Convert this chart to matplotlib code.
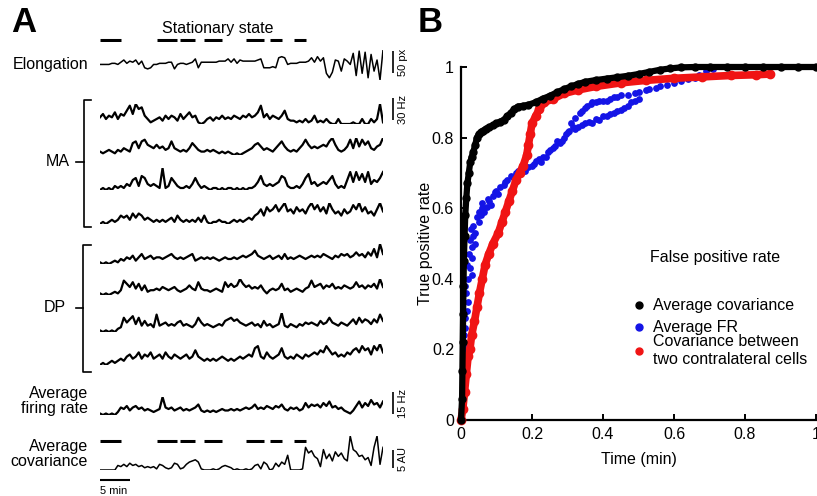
import numpy as np
import matplotlib
matplotlib.use("Agg")
import matplotlib.pyplot as plt
from matplotlib.lines import Line2D

plt.rcParams['font.family'] = ['Liberation Sans', 'DejaVu Sans']

# ==============================
# DATA - panel A (traces, arbitrary units, one sample every 0.5 min)
# ==============================
elongation = [0, 0, 0, 0, 1, 1, 0, 2, 4, 1, 3, 2, 4, 0, 3, -3, -4, -3, 0, 0, 1, 1, 1, 2, 2,
              -4, 0, 1, 1, 0, 1, 2, 5, -3, 2, 2, 2, 2, 2, 2, 3, 3, 3, 5, 2, 5, 1, 4,
              3, 3, 3, 3, 3, 4, 5, -3, -3, -3, -2, -3, 6, 7, 6, 0, 1, 1, 1, 2, 2, 2, 3,
              6, 2, 7, 3, 6, -8, -12, -7, 4, 3, -6, 5, 3, 0,
              10, -10, 12, -8, 11, -12, 9, -6, 4, -14, 13]

ma1 = [4, 6, 3, 5, 4, 7, 3, 6, 5, 8, 11, 6, 12, 9, 10, 5, 3, 1, 2, 3,
       4, 2, 5, 3, 5, 4, 2, 6, 3, 5, 7, 4, 5, 1, 0, 1,
       3, 4, 2, 4, 3, 5, 3, 4, 3, 5, 4, 3, 5, 4, 6, 4, 5, 7, 11,
       4, 6, 3, 5, 4, 3, 5, 8, 3, 2, 2, 1, 2, 1, 3, 1, 2, 5, 1, 2, 1, 3, 1,
       0, 0, 3, 0, 0, 0, 0, 1, 0, 0, 3, 0, 0, 3, 1, 3, 12, 1]
ma2 = [2, 1, 2, 3, 2, 1, 3, 2, 4, 3, 2, 7, 8, 4, 8, 9, 6, 5, 4, 6, 4, 5, 3, 4, 8, 4,
       3, 2, 3, 2, 4, 7, 5, 3, 2, 2, 3, 2, 3, 2, 1, 2, 1, 2, 1, 0, 1, 0, 1, 2,
       3, 4, 6, 7, 5, 3, 4, 3, 2, 4, 6, 8, 5, 3, 2, 3, 2, 4, 6, 9, 6, 4, 5, 4, 5, 6,
       5, 8, 10, 6, 3, 2, 3, 5, 9, 4, 10, 5, 9, 6, 8, 4, 3, 5, 6, 10]
ma3 = [1, 2, 1, 2, 1, 3, 2, 3, 2, 4, 3, 6, 7, 3, 8, 7, 4, 3, 4, 3, 2, 12, 2, 3, 7, 5,
       3, 2, 2, 3, 2, 4, 7, 4, 2, 3, 2, 1, 2, 2, 1, 2, 1, 2, 2, 1, 2, 1, 2, 1, 2, 2, 3,
       5, 8, 4, 3, 4, 3, 4, 5, 8, 7, 3, 2, 2, 3, 2, 4, 7, 9, 4, 5, 3, 4, 5, 4, 6, 8, 4,
       2, 3, 2, 6, 10, 5, 10, 6, 9, 5, 10, 4, 6, 5, 7, 10]
ma4 = [0, 1, 0, 1, 2, 1, 2, 4, 3, 4, 2, 5, 3, 5, 4, 2, 3, 2, 1, 2, 1, 2, 1, 2, 3, 1, 4, 2,
       1, 2, 1, 2, 1, 3, 1, 4, 1, 0, 1, 1, 2, 1, 1, 0, 1, 2, 1, 2, 1, 2, 3, 2, 4,
       5, 7, 4, 8, 6, 7, 9, 6, 8, 10, 6, 7, 5, 8, 6, 7, 5, 8, 10, 7, 9, 6, 8, 5,
       10, 7, 5, 6, 4, 7, 5, 6, 9, 7, 10, 6, 8, 5, 6, 4, 7, 10, 6]

dp1 = [1, 0, 1, 0, 1, 2, 1, 3, 2, 4, 3, 5, 2, 4, 6, 3, 4, 5, 3, 4, 4, 3, 4, 5, 6, 4, 3, 4, 3, 4, 5,
       6, 2, 3, 4, 3, 4, 3, 4, 3, 2, 3, 4, 3, 3, 4, 3, 4, 5, 4, 5, 6, 8, 5, 4, 3, 4, 5, 3, 4,
       5, 3, 6, 3, 4, 3, 4, 5, 4, 3, 4, 5, 4, 5, 4, 6, 5, 4, 3, 5, 4, 6, 5,
       6, 4, 5, 7, 5, 6, 4, 7, 5, 9, 4, 12, 6]
dp2 = [1, 0, 1, 0, 1, 2, 1, 3, 9, 7, 5, 8, 4, 7, 3, 6, 2, 3, 3, 4, 3, 5, 4, 3, 4, 5,
       3, 2, 3, 4, 6, 4, 3, 8, 4, 3, 3, 2, 3, 4, 3, 2, 8, 5, 7, 5, 6, 10, 7, 5, 6, 4, 5, 4, 6,
       3, 1, 3, 4, 3, 4, 7, 3, 4, 2, 3, 4, 3, 2, 4, 5, 9, 5, 6, 7, 4, 6, 5, 7,
       4, 5, 4, 6, 5, 4, 5, 8, 5, 6, 4, 6, 5, 7, 4, 10, 5]
dp3 = [1, 0, 1, 0, 1, 0, 2, 3, 9, 6, 8, 10, 5, 9, 4, 7, 4, 5, 3, 11, 4, 5, 6, 4,
       5, 4, 6, 7, 4, 5, 4, 3, 5, 9, 6, 4, 5, 4, 3, 4, 5, 4, 7, 8, 9, 7, 8, 6, 5, 4, 5, 6, 4,
       5, 3, 7, 4, 5, 3, 4, 5, 12, 4, 3, 5, 4, 3, 5, 4, 6, 5, 6, 5, 4, 7, 5, 6, 9,
       6, 5, 4, 6, 5, 4, 6, 8, 5, 9, 6, 8, 7, 5, 8, 6, 11, 7]
dp4 = [1, 2, 1, 2, 3, 2, 3, 4, 3, 5, 6, 4, 5, 7, 4, 6, 5, 7, 4, 5, 6, 4, 7, 5,
       4, 6, 5, 4, 5, 6, 4, 5, 8, 5, 4, 3, 4, 3, 4, 3, 4, 5, 4, 3, 4, 3, 4, 5, 4, 5, 6,
       5, 9, 10, 5, 4, 7, 5, 4, 5, 6, 9, 5, 4, 5, 4, 6, 5, 4, 6, 5, 6,
       7, 6, 8, 7, 10, 8, 6, 7, 5, 6, 5, 7, 6, 8, 9, 7, 10, 8, 9, 6, 10, 8, 11, 7]

avg_fr = [1, 0, 1, 0, 1, 0, 2, 5, 4, 6, 3, 5, 6, 4, 5, 3, 4, 3, 2, 3, 4, 12, 5, 4, 5, 3, 4, 5, 3, 4, 3,
          4, 5, 7, 3, 2, 3, 2, 3, 2, 3, 4, 3, 3, 4, 3, 4, 3, 4, 5, 4, 5, 7, 4, 5, 4, 6, 5, 4, 6,
          5, 7, 4, 3, 5, 4, 5, 3, 4, 8, 5, 7, 6, 7, 5, 8, 6, 9, 5, 6, 4, 5, 3, 2,
          1, 3, 6, 9, 5, 8, 6, 10, 7, 8, 5, 9]
avg_cov = [0, 0, 0, 0, 0, 0, 4, 3, 5, 3, 6, 4, 5, 3, 4, 2, 3, 2, 3, 1, 5, 4, 2, 1, 2, 6, 5, 1, 2,
           5, 7, 8, 9, 7, 1, 0, 0, 0, 1, 0, 1, 3, 4, 3, 2, 0, 1, 0, 0, 1, 0, 1,
           4, 5, 1, 7, 5, 0, 1, 6, 3, 7, 5, 13, 0, 0, 0, 0, 1,
           20, 15, 17, 12, 10, 3, 18, 10, 14, 8, 16, 12, 15, 10, 8, 30, 18, 16, 12, 13, 9,
           11, 4, 20, 30, 5, 20]

# stationary state periods (min)
stat_start = [0, 9.5, 13.5, 17.5, 24.5, 28.5, 32.5]
stat_end = [3.5, 13, 16, 20.5, 27.5, 30.5, 34.5]

# ==============================
# DATA - panel B (ROC)
# ==============================
cov_fpr = [0, 0.003, 0.004, 0.005, 0.006, 0.007, 0.008, 0.01, 0.012, 0.015, 0.018, 0.022, 0.026,
           0.03, 0.035, 0.04, 0.045, 0.05, 0.056, 0.063, 0.07, 0.08, 0.09, 0.1, 0.11, 0.12, 0.13,
           0.14, 0.15, 0.16, 0.175, 0.19, 0.21, 0.23, 0.25, 0.27, 0.29, 0.31, 0.33, 0.35, 0.38,
           0.41, 0.44, 0.47, 0.5, 0.53, 0.56, 0.59, 0.62, 0.66, 0.7, 0.75, 0.8, 0.85, 0.9, 0.95, 1.0]
cov_tpr = [0, 0.06, 0.14, 0.22, 0.3, 0.38, 0.45, 0.52, 0.58, 0.63, 0.67, 0.7, 0.73,
           0.745, 0.76, 0.78, 0.8, 0.81, 0.815, 0.82, 0.825, 0.83, 0.835, 0.84, 0.845, 0.85, 0.86,
           0.87, 0.88, 0.888, 0.89, 0.893, 0.9, 0.91, 0.918, 0.928, 0.937, 0.945, 0.952, 0.958, 0.963,
           0.967, 0.971, 0.975, 0.98, 0.986, 0.992, 0.996, 0.999, 1, 1, 1, 1, 1, 1, 1, 1]

# average FR: (false positive rate, true positive rate)
fr_points = [
    (0.005, 0.1), (0.008, 0.16), (0.01, 0.2), (0.015, 0.21), (0.008, 0.24), (0.01, 0.26),
    (0.012, 0.29), (0.016, 0.31), (0.02, 0.335), (0.015, 0.36), (0.012, 0.38), (0.02, 0.4),
    (0.03, 0.41), (0.025, 0.43), (0.018, 0.44), (0.03, 0.46), (0.022, 0.47), (0.03, 0.49),
    (0.04, 0.5), (0.025, 0.51), (0.035, 0.52), (0.04, 0.53), (0.028, 0.54), (0.035, 0.55),
    (0.05, 0.56), (0.044, 0.576), (0.055, 0.58), (0.05, 0.59), (0.065, 0.59), (0.06, 0.6),
    (0.072, 0.604), (0.085, 0.61), (0.06, 0.615), (0.08, 0.62), (0.075, 0.625), (0.09, 0.635),
    (0.105, 0.64), (0.095, 0.645), (0.1, 0.65), (0.11, 0.66), (0.12, 0.665), (0.125, 0.675),
    (0.13, 0.68), (0.15, 0.685), (0.14, 0.69), (0.155, 0.7), (0.16, 0.705), (0.18, 0.705),
    (0.17, 0.71), (0.19, 0.717), (0.2, 0.72), (0.205, 0.725), (0.225, 0.73), (0.21, 0.735),
    (0.22, 0.74), (0.24, 0.745), (0.232, 0.746), (0.245, 0.76), (0.25, 0.765), (0.26, 0.77),
    (0.265, 0.775), (0.279, 0.784), (0.27, 0.79), (0.285, 0.79), (0.29, 0.8), (0.295, 0.81),
    (0.3, 0.815), (0.305, 0.82), (0.315, 0.83),
    # upper track
    (0.31, 0.84), (0.32, 0.855), (0.335, 0.87), (0.34, 0.875), (0.35, 0.885), (0.355, 0.89),
    (0.365, 0.895), (0.37, 0.9), (0.38, 0.9), (0.39, 0.905), (0.4, 0.905), (0.41, 0.905),
    (0.42, 0.91), (0.43, 0.915), (0.44, 0.915), (0.45, 0.92), (0.47, 0.922), (0.49, 0.925),
    (0.5, 0.93), (0.52, 0.935), (0.53, 0.938), (0.55, 0.94), (0.56, 0.946), (0.58, 0.95),
    (0.6, 0.955), (0.62, 0.96), (0.64, 0.965), (0.66, 0.97), (0.67, 0.978), (0.69, 0.988),
    (0.71, 0.995),
    # lower track
    (0.32, 0.825), (0.33, 0.83), (0.34, 0.835), (0.35, 0.84), (0.36, 0.845), (0.37, 0.84),
    (0.38, 0.852), (0.39, 0.85), (0.4, 0.86), (0.41, 0.862), (0.42, 0.868), (0.43, 0.87),
    (0.44, 0.875), (0.45, 0.878), (0.46, 0.885), (0.47, 0.89), (0.48, 0.9), (0.49, 0.905),
    (0.5, 0.91),
]
fr_fpr = [p[0] for p in fr_points]
fr_tpr = [p[1] for p in fr_points]

pair_fpr = [0, 0.005, 0.01, 0.015, 0.02, 0.025, 0.03, 0.038, 0.045, 0.052, 0.06, 0.068, 0.078,
            0.09, 0.105, 0.115, 0.125, 0.135, 0.145, 0.155, 0.165, 0.175, 0.185, 0.19, 0.195, 0.2,
            0.21, 0.22, 0.235, 0.26, 0.29, 0.33, 0.38, 0.45, 0.52, 0.6, 0.68, 0.76, 0.83, 0.87]
pair_tpr = [0, 0.03, 0.08, 0.13, 0.18, 0.2, 0.24, 0.28, 0.32, 0.36, 0.4, 0.44, 0.47,
            0.5, 0.53, 0.56, 0.59, 0.62, 0.65, 0.68, 0.7, 0.72, 0.75, 0.78, 0.81, 0.84,
            0.86, 0.88, 0.9, 0.91, 0.925, 0.935, 0.945, 0.955, 0.962, 0.968, 0.972, 0.976, 0.978, 0.98]

# ==============================
# FIGURE
# ==============================
W, H = 817, 496
FS = 11.5
fig = plt.figure(figsize=(W / 100, H / 100), dpi=100)

# overlay in pixel coordinates for labels / brackets / scale bars
deco = fig.add_axes([0, 0, 1, 1])
deco.set_xlim(0, W)
deco.set_ylim(H, 0)
deco.set_axis_off()

X0, X1 = 100, 383  # trace extent (px)


def trace_ax(top, bottom):
    ax = fig.add_axes([X0 / W, 1 - bottom / H, (X1 - X0) / W, (bottom - top) / H])
    ax.set_axis_off()
    ax.set_xlim(0, 47.5)
    return ax


def draw_trace(vals, top, bottom, lw=1.2):
    ax = trace_ax(top, bottom)
    t = np.linspace(0, 47.5, len(vals))
    ax.plot(t, vals, color="black", lw=lw)
    ax.set_ylim(min(vals), max(vals))
    return ax


draw_trace(elongation, 50, 80, lw=1.1)
for vals, top, bottom in [(ma1, 104, 124), (ma2, 138, 155), (ma3, 168, 190), (ma4, 203, 224),
                          (dp1, 244, 264), (dp2, 279, 295), (dp3, 313, 332), (dp4, 344, 365),
                          (avg_fr, 397, 415)]:
    draw_trace(vals, top, bottom, lw=1.6)
draw_trace(avg_cov, 436, 470, lw=1.1)

# stationary state dashes
for ypx in (40, 441):
    ax = trace_ax(ypx - 2, ypx + 2)
    ax.set_ylim(-1, 1)
    ax.hlines([0] * len(stat_start), stat_start, stat_end, color="black", lw=2.2)

# 5 min scale bar
ax = trace_ax(478, 482)
ax.set_ylim(-1, 1)
ax.hlines(0, 0, 5, color="black", lw=1.5)
deco.text(114, 491, "5 min", ha="center", va="center", fontsize=8)

# labels
lab = dict(fontsize=FS, ha="right", va="center")
deco.text(88, 65, "Elongation", **lab)
deco.text(70, 162, "MA", **lab)
deco.text(66, 308, "DP", **lab)
deco.text(88, 401, "Average\nfiring rate", linespacing=1.0, **lab)
deco.text(88, 454, "Average\ncovariance", linespacing=1.0, **lab)
deco.text(218, 29, "Stationary state", fontsize=FS, ha="center", va="center")
deco.text(11, 23, "A", fontsize=25, fontweight="bold", va="center")
deco.text(418, 23, "B", fontsize=25, fontweight="bold", va="center")

# brackets
deco.plot([91, 84, 84, 91], [100, 100, 227, 227], color="black", lw=1.2)
deco.plot([76, 84], [162, 162], color="black", lw=1.2)
deco.plot([91, 83, 83, 91], [245, 245, 372, 372], color="black", lw=1.2)
deco.plot([76, 83], [308, 308], color="black", lw=1.2)

# vertical scale bars
for y0, y1, txt in [(51, 73, "50 px"), (98, 120, "30 Hz"), (392, 414, "15 Hz"), (450, 468, "5 AU")]:
    deco.vlines(393, y0, y1, color="black", lw=1.2)
    deco.text(403, (y0 + y1) / 2, txt, rotation=90, fontsize=8, ha="center", va="center")

# ==============================
# PANEL B
# ==============================
BLUE, RED = "#1414e6", "#f01414"
axb = fig.add_axes([461 / W, 1 - 420 / H, 355 / W, 353 / H])
axb.scatter(fr_fpr, fr_tpr, s=24, color=BLUE, linewidths=0, zorder=2, clip_on=False)
axb.plot(pair_fpr, pair_tpr, color=RED, lw=5.5, marker="o", ms=6, zorder=3,
         solid_capstyle="round", clip_on=False)
axb.plot(cov_fpr, cov_tpr, color="black", lw=4.5, marker="o", ms=5, zorder=4,
         solid_capstyle="round", clip_on=False)

axb.set_xlim(0, 1)
axb.set_ylim(0, 1)
axb.spines["top"].set_visible(False)
axb.spines["right"].set_visible(False)
axb.spines["left"].set_linewidth(1.6)
axb.spines["bottom"].set_linewidth(1.6)
ticks = [0, 0.2, 0.4, 0.6, 0.8, 1]
tick_labels = ["0", "0.2", "0.4", "0.6", "0.8", "1"]
axb.set_xticks(ticks)
axb.set_xticklabels(tick_labels)
axb.set_yticks(ticks)
axb.set_yticklabels(tick_labels)
axb.tick_params(direction="in", length=4, width=1.4, labelsize=FS, pad=5)
axb.set_xlabel("Time (min)", fontsize=FS)
axb.set_ylabel("True positive rate", fontsize=FS)
axb.xaxis.set_label_coords(0.5, -0.09)
axb.yaxis.set_label_coords(-0.078, 0.5)

axb.text(0.715, 0.459, "False positive rate", fontsize=FS, ha="center", va="center",
         transform=axb.transAxes)

leg_kw = dict(loc="upper left", frameon=False, fontsize=FS, handlelength=0.6,
              handletextpad=0.6, labelspacing=0.45, borderaxespad=0, borderpad=0)
h1 = [Line2D([], [], ls="", marker="o", ms=5, color=c) for c in ("black", BLUE)]
leg1 = axb.legend(h1, ["Average covariance", "Average FR"], bbox_to_anchor=(0.487, 0.345), **leg_kw)
axb.add_artist(leg1)
h2 = [Line2D([], [], ls="", marker="o", ms=5, color=RED)]
axb.legend(h2, ["Covariance between\ntwo contralateral cells"], bbox_to_anchor=(0.487, 0.243), **leg_kw)

fig.savefig("out.png", dpi=100)
